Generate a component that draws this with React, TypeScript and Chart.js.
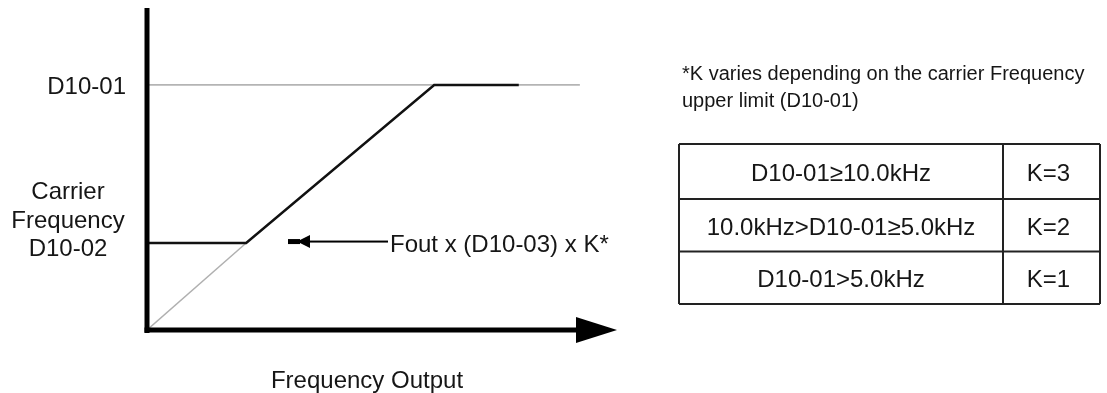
import React, { useEffect, useRef } from "react";
import { Chart, registerables } from "chart.js";

Chart.register(...registerables);

// ---- data ----
const upperLevel = 76.1; // D10-01 level
const lowerLevel = 27; // D10-02 level
const outputX = [0, 21.1, 61.1, 79.1];
const outputY = [27, 27, 76.1, 76.1];
const upperRefX = [0, 92.1];
const upperRefY = [76.1, 76.1];
const diagRefX = [0, 21.1];
const diagRefY = [0, 27];

const upperLabel = "D10-01";
const lowerLabel = ["Carrier", "Frequency", "D10-02"];
const xTitle = "Frequency Output";
const formulaLabel = "Fout x (D10-03) x K*";
const noteLines = ["*K varies depending on the carrier Frequency", "upper limit (D10-01)"];
const conditions = ["D10-01≥10.0kHz", "10.0kHz>D10-01≥5.0kHz", "D10-01>5.0kHz"];
const kValues = ["K=3", "K=2", "K=1"];

const FONT = "'Liberation Sans', Arial, Helvetica, sans-serif";

const toPts = (xs: number[], ys: number[]) => xs.map((x, i) => ({ x, y: ys[i] }));

const decorPlugin = {
  id: "decor",
  afterDraw(chart: any) {
    const ctx: CanvasRenderingContext2D = chart.ctx;
    const xs = chart.scales.x;
    const ys = chart.scales.y;
    const x0 = xs.getPixelForValue(0);
    const y0 = ys.getPixelForValue(0);
    const xEnd = xs.getPixelForValue(100);
    const yTop = chart.chartArea.top;
    const yUp = ys.getPixelForValue(upperLevel);
    const yLow = ys.getPixelForValue(lowerLevel);
    ctx.save();
    ctx.fillStyle = "#000";
    // y axis
    ctx.fillRect(x0 - 2.5, yTop, 5, y0 - yTop + 3);
    // x axis
    const base = xEnd - 41;
    ctx.fillRect(x0 - 2.5, y0 - 2.5, base - x0 + 4, 5);
    ctx.beginPath();
    ctx.moveTo(base, y0 - 13);
    ctx.lineTo(xEnd, y0);
    ctx.lineTo(base, y0 + 13);
    ctx.closePath();
    ctx.fill();

    // formula arrow
    const ay = yLow - 1.5;
    ctx.fillRect(308, ay - 1, 80, 2);
    ctx.beginPath();
    ctx.moveTo(297, ay);
    ctx.lineTo(310, ay - 6.5);
    ctx.lineTo(310, ay + 6.5);
    ctx.closePath();
    ctx.fill();
    ctx.fillRect(288, ay - 2.5, 12, 5);

    ctx.fillStyle = "#161616";
    ctx.font = `24px ${FONT}`;
    ctx.textBaseline = "alphabetic";
    ctx.textAlign = "left";
    ctx.fillText(formulaLabel, 390, yLow + 9);

    // y labels
    ctx.textAlign = "right";
    ctx.fillText(upperLabel, 126, yUp + 8.6);
    ctx.textAlign = "center";
    lowerLabel.forEach((t, i) => ctx.fillText(t, 68, yLow + 13 - (lowerLabel.length - 1 - i) * 28.5));

    // x title
    ctx.fillText(xTitle, 367, 388);

    // note
    ctx.textAlign = "left";
    ctx.font = `20px ${FONT}`;
    ctx.fillText(noteLines[0], 682, 80);
    ctx.fillText(noteLines[1], 682, 107);

    // table
    const tl = 679, tr = 1100, tdiv = 1003;
    const rows = [144, 199, 251.5, 304];
    ctx.strokeStyle = "#222";
    ctx.lineWidth = 2;
    ctx.beginPath();
    rows.forEach((ry) => {
      ctx.moveTo(tl, ry);
      ctx.lineTo(tr, ry);
    });
    [tl, tdiv, tr].forEach((cx) => {
      ctx.moveTo(cx, rows[0]);
      ctx.lineTo(cx, rows[rows.length - 1]);
    });
    ctx.stroke();
    ctx.font = `24px ${FONT}`;
    ctx.textAlign = "center";
    conditions.forEach((c, i) => {
      const mid = (rows[i] + rows[i + 1]) / 2;
      ctx.fillText(c, (tl + tdiv) / 2, mid + 9.5);
      ctx.fillText(kValues[i], (tdiv + tr) / 2 - 3, mid + 9.5);
    });
    ctx.restore();
  },
};

export default function App() {
  const ref = useRef<HTMLCanvasElement | null>(null);
  useEffect(() => {
    if (!ref.current) return;
    const chart = new Chart(ref.current, {
      type: "scatter",
      data: {
        datasets: [
          {
            data: toPts(outputX, outputY),
            showLine: true,
            borderColor: "#111",
            borderWidth: 2.5,
            pointRadius: 0,
            order: 0,
          },
          {
            data: toPts(upperRefX, upperRefY),
            showLine: true,
            borderColor: "#b4b4b4",
            borderWidth: 1.8,
            pointRadius: 0,
            order: 1,
          },
          {
            data: toPts(diagRefX, diagRefY),
            showLine: true,
            borderColor: "#b0b0b0",
            borderWidth: 1.5,
            pointRadius: 0,
            order: 2,
          },
        ],
      },
      options: {
        responsive: false,
        animation: false,
        events: [],
        layout: { padding: { left: 147, right: 490, top: 8, bottom: 63 } },
        plugins: { legend: { display: false }, tooltip: { enabled: false } },
        scales: {
          x: { type: "linear", min: 0, max: 100, display: false },
          y: { type: "linear", min: 0, max: 100, display: false },
        },
      },
      plugins: [decorPlugin],
    });
    return () => chart.destroy();
  }, []);
  return (
    <div style={{ position: "absolute", left: 0, top: 0, width: 1107, height: 393, background: "#fff" }}>
      <canvas ref={ref} width={1107} height={393} style={{ width: 1107, height: 393, display: "block" }} />
    </div>
  );
}
